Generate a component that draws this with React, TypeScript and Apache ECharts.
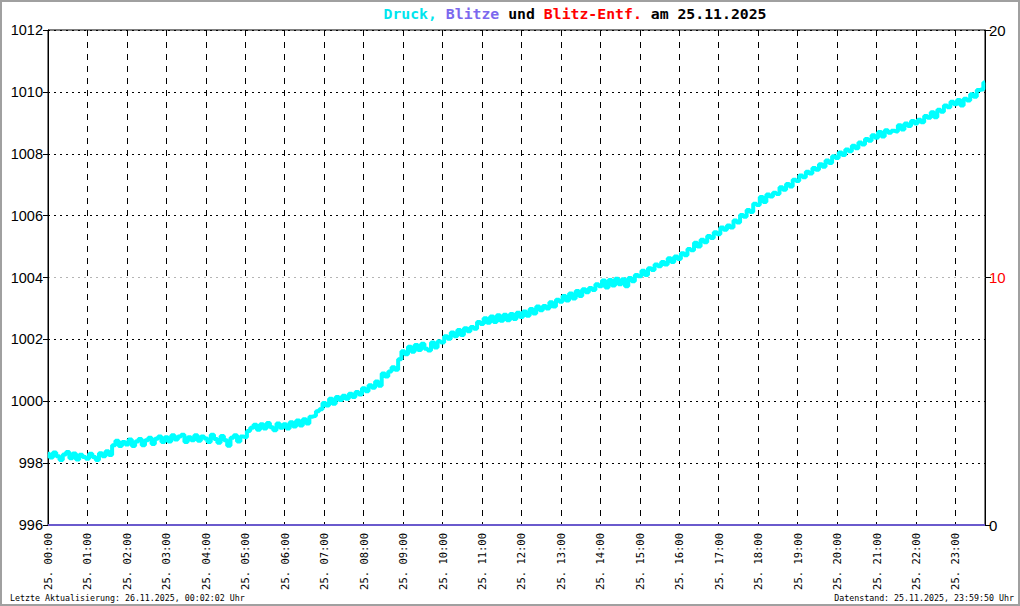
import React, { useEffect, useRef } from "react";
import * as echarts from "echarts";

const titleDate = "25.11.2025";
const dayPrefix = "25.";
const footerLeft = "Letzte Aktualisierung: 26.11.2025, 00:02:02 Uhr";
const footerRight = "Datenstand: 25.11.2025, 23:59:50 Uhr";

// pressure samples, one every 5 minutes starting 00:00 (hPa)
const pressure: number[] = [
  // 00
  998.30, 998.18, 998.34, 998.22, 998.10, 998.28, 998.36, 998.16, 998.31, 998.12, 998.27, 998.20,
  // 01
  998.14, 998.30, 998.20, 998.10, 998.32, 998.22, 998.38, 998.26, 998.58, 998.72, 998.55, 998.68,
  // 02
  998.60, 998.76, 998.55, 998.70, 998.78, 998.58, 998.74, 998.82, 998.62, 998.79, 998.86, 998.68,
  // 03
  998.84, 998.70, 998.90, 998.76, 998.86, 998.92, 998.68, 998.84, 998.74, 998.90, 998.72, 998.86,
  // 04
  998.80, 998.68, 998.92, 998.78, 998.66, 998.88, 998.74, 998.56, 998.82, 998.90, 998.70, 998.86,
  // 05
  998.84, 999.04, 999.14, 999.24, 999.08, 999.26, 999.12, 999.30, 999.16, 999.06, 999.28, 999.14,
  // 06
  999.26, 999.12, 999.32, 999.18, 999.38, 999.22, 999.42, 999.28, 999.50, 999.52, 999.68, 999.74,
  // 07
  999.94, 999.86, 1000.08, 999.92, 1000.14, 1000.04, 1000.18, 1000.08, 1000.24, 1000.14, 1000.30, 1000.22,
  // 08
  1000.42, 1000.32, 1000.52, 1000.44, 1000.64, 1000.50, 1000.90, 1000.80, 1000.96, 1001.10, 1001.02, 1001.36,
  // 09
  1001.62, 1001.52, 1001.76, 1001.60, 1001.82, 1001.66, 1001.86, 1001.70, 1001.64, 1001.90, 1001.74, 1001.94,
  // 10
  1001.90, 1002.10, 1002.02, 1002.22, 1002.10, 1002.30, 1002.14, 1002.36, 1002.26, 1002.40, 1002.34, 1002.56,
  // 11
  1002.50, 1002.68, 1002.54, 1002.74, 1002.56, 1002.78, 1002.60, 1002.80, 1002.62, 1002.82, 1002.66, 1002.86,
  // 12
  1002.72, 1002.90, 1002.76, 1002.98, 1002.84, 1003.06, 1002.94, 1003.08, 1003.00, 1003.20, 1003.06, 1003.28,
  // 13
  1003.22, 1003.40, 1003.26, 1003.48, 1003.32, 1003.56, 1003.40, 1003.62, 1003.52, 1003.66, 1003.60, 1003.78,
  // 14
  1003.72, 1003.90, 1003.68, 1003.92, 1003.74, 1003.96, 1003.78, 1003.94, 1003.72, 1003.98, 1003.88, 1004.08,
  // 15
  1004.04, 1004.22, 1004.08, 1004.30, 1004.24, 1004.42, 1004.36, 1004.50, 1004.42, 1004.62, 1004.50, 1004.68,
  // 16
  1004.60, 1004.78, 1004.72, 1004.92, 1004.88, 1005.12, 1005.00, 1005.22, 1005.14, 1005.34, 1005.28, 1005.46,
  // 17
  1005.40, 1005.62, 1005.54, 1005.68, 1005.62, 1005.84, 1005.78, 1006.02, 1005.96, 1006.18, 1006.12, 1006.38,
  // 18
  1006.34, 1006.60, 1006.44, 1006.68, 1006.62, 1006.74, 1006.70, 1006.92, 1006.84, 1007.02, 1006.94, 1007.16,
  // 19
  1007.12, 1007.30, 1007.24, 1007.42, 1007.36, 1007.54, 1007.48, 1007.66, 1007.58, 1007.78, 1007.70, 1007.92,
  // 20
  1007.86, 1008.04, 1007.96, 1008.14, 1008.08, 1008.26, 1008.18, 1008.36, 1008.30, 1008.48, 1008.42, 1008.60,
  // 21
  1008.52, 1008.70, 1008.56, 1008.76, 1008.68, 1008.74, 1008.72, 1008.92, 1008.78, 1008.98, 1008.90, 1009.06,
  // 22
  1008.98, 1009.10, 1009.02, 1009.22, 1009.16, 1009.34, 1009.18, 1009.42, 1009.36, 1009.56, 1009.50, 1009.68,
  // 23
  1009.60, 1009.74, 1009.56, 1009.78, 1009.72, 1009.92, 1009.84, 1010.06, 1010.08, 1010.30,
];

// lightning counts (none this day)
const blitzeHours: number[] = [0, 23.75];
const blitzeCounts: number[] = [0, 0];

const sampleMinutes = 5;
const xMax = 23.75;

const pressureTicks = { min: 996, max: 1012, step: 2 };
const rightTicks = { min: 0, max: 20, step: 10 };

export default function App() {
  const ref = useRef<HTMLDivElement>(null);

  useEffect(() => {
    document.body.style.margin = "0";
    if (!ref.current) return;
    const chart = echarts.init(ref.current, null, { renderer: "svg" });
    const mono = "DejaVu Sans Mono";
    const pData = pressure.map((v, i) => [(i * sampleMinutes) / 60, v]);
    const bData = blitzeHours.map((h, i) => [h, blitzeCounts[i]]);
    const leftGridColors = [] as string[];
    for (let v = pressureTicks.min; v <= pressureTicks.max; v += pressureTicks.step) {
      leftGridColors.push(v === 1004 ? "#b4b4b4" : "#000");
    }
    const pad = (n: number) => (n < 10 ? "0" + n : "" + n);

    chart.setOption({
      animation: false,
      backgroundColor: "#fff",
      grid: {
        left: 48,
        right: 35,
        top: 30,
        bottom: 81,
        containLabel: false,
        show: true,
        borderColor: "#000",
        borderWidth: 1,
      },
      graphic: [
        {
          type: "rect",
          shape: { x: 1, y: 1, width: 1018, height: 604 },
          style: { fill: "none", stroke: "#a0a0a0", lineWidth: 2 },
          silent: true,
          z: 100,
        },
        {
          type: "text",
          x: 575,
          y: 13,
          style: {
            text: "{c|Druck,} {b|Blitze} {k|und} {r|Blitz-Entf.} {k|am " + titleDate + "}",
            align: "center",
            verticalAlign: "middle",
            rich: {
              c: { fill: "#00e5ee", font: `bold 14.8px "${mono}"` },
              b: { fill: "#7b68ee", font: `bold 14.8px "${mono}"` },
              k: { fill: "#000", font: `bold 14.8px "${mono}"` },
              r: { fill: "#ff0000", font: `bold 14.8px "${mono}"` },
            },
            font: `bold 14.8px "${mono}"`,
          },
        },
        {
          type: "text",
          x: 10,
          y: 598,
          style: {
            text: footerLeft,
            fill: "#000",
            font: `8.3px "${mono}"`,
            verticalAlign: "middle",
            align: "left",
          },
        },
        {
          type: "text",
          x: 1014,
          y: 598,
          style: {
            text: footerRight,
            fill: "#000",
            font: `8.3px "${mono}"`,
            verticalAlign: "middle",
            align: "right",
          },
        },
      ],
      xAxis: {
        type: "value",
        min: 0,
        max: xMax,
        interval: 1,
        axisLine: { show: true, lineStyle: { color: "#000", width: 1 } },
        axisTick: { show: false },
        splitLine: {
          show: true,
          lineStyle: { color: "#000", type: [6, 6], width: 1 },
        },
        axisLabel: {
          rotate: 90,
          margin: 8,
          showMaxLabel: false,
          color: "#000",
          fontFamily: mono,
          fontSize: 10.5,
          formatter: (v: number) => `${dayPrefix} ${pad(Math.round(v))}:00`,
        },
      },
      yAxis: [
        {
          type: "value",
          min: pressureTicks.min,
          max: pressureTicks.max,
          interval: pressureTicks.step,
          position: "left",
          axisLine: { show: true, lineStyle: { color: "#000", width: 1 } },
          axisTick: { show: true, length: 5, lineStyle: { color: "#000" } },
          splitLine: {
            show: true,
            lineStyle: { color: leftGridColors, type: [2, 4], width: 1 },
          },
          axisLabel: {
            color: "#000",
            fontFamily: "Liberation Sans",
            fontSize: 14.5,
            margin: 5,
            formatter: (v: number) => String(v),
          },
        },
        {
          type: "value",
          min: rightTicks.min,
          max: rightTicks.max,
          interval: rightTicks.step,
          position: "right",
          axisLine: { show: true, lineStyle: { color: "#000", width: 1 } },
          axisTick: { show: true, length: 6, lineStyle: { color: "#000" } },
          splitLine: { show: false },
          axisLabel: {
            color: (v: any) => (Number(v) === 10 ? "#ff0000" : "#000"),
            fontFamily: "Liberation Sans",
            fontSize: 15,
            margin: 4,
            formatter: (v: number) => String(v),
          },
        },
      ],
      series: [
        {
          name: "Druck",
          type: "line",
          yAxisIndex: 0,
          data: pData,
          step: "middle",
          showSymbol: false,
          lineStyle: { color: "#00ffff", width: 4 },
          z: 3,
        },
        {
          name: "Blitze",
          type: "line",
          yAxisIndex: 1,
          data: bData,
          showSymbol: false,
          lineStyle: { color: "#6a5acd", width: 2 },
          z: 4,
        },
      ],
    });
    return () => chart.dispose();
  }, []);

  return <div ref={ref} style={{ width: 1020, height: 606 }} />;
}
